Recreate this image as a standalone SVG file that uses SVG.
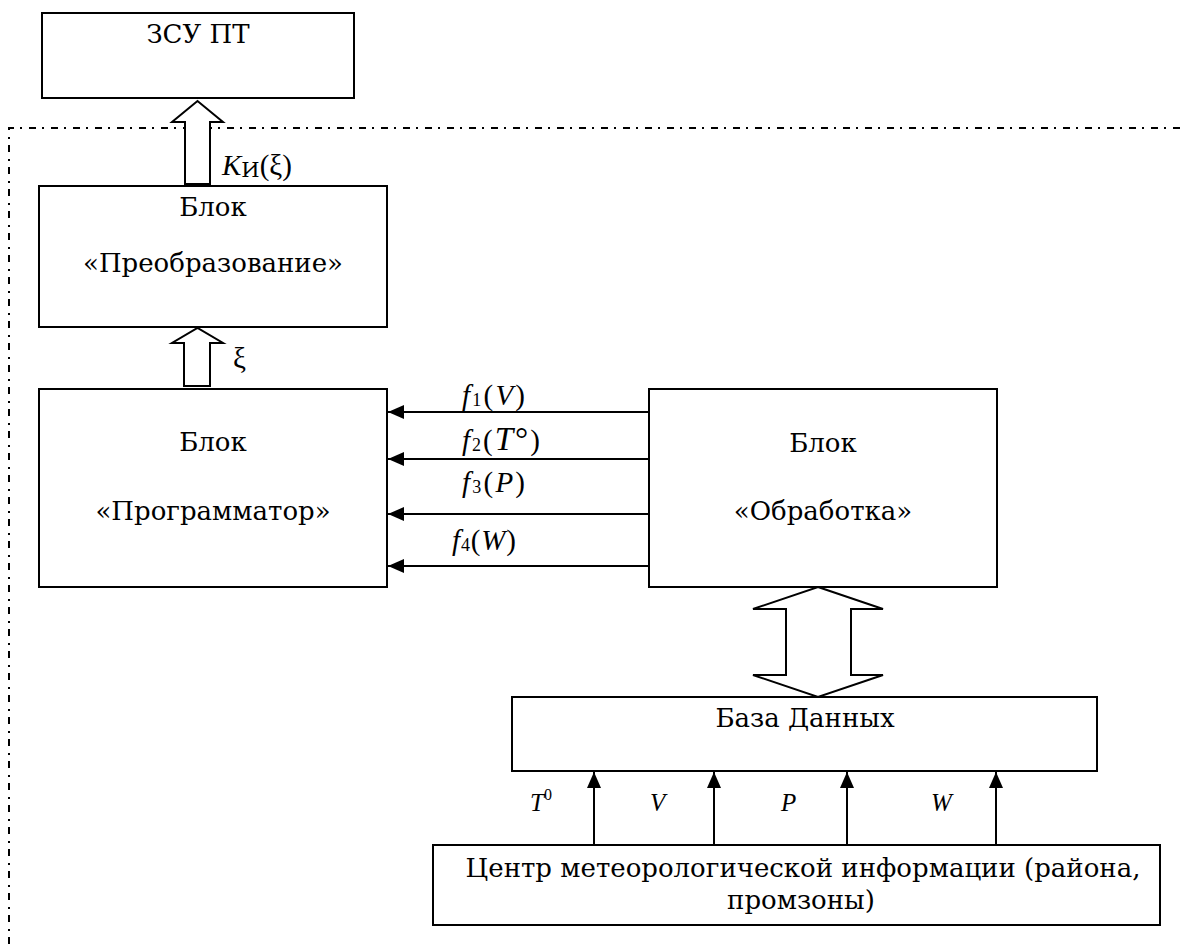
<svg xmlns="http://www.w3.org/2000/svg" width="1182" height="944" viewBox="0 0 1182 944">
<style>
text{font-family:'Liberation Serif','DejaVu Serif',serif;fill:#000;}
.t{font-size:26px;text-anchor:middle;font-family:'DejaVu Serif',serif;}
.l{font-size:29px;}
.i{font-style:italic;}
.s{font-size:18px;}
.b{font-size:25px;font-style:italic;}
.box{fill:#fff;stroke:#000;stroke-width:2;}
.ln{stroke:#000;stroke-width:2;fill:none;}
.hol{fill:#fff;stroke:#000;stroke-width:2;stroke-linejoin:miter;}
.dd{stroke:#000;stroke-width:2;fill:none;stroke-dasharray:7 6 2 7;}
</style>
<defs>
<marker id="ah" markerWidth="16" markerHeight="14" refX="16" refY="7" orient="auto" markerUnits="userSpaceOnUse">
<path d="M0,0 L16,7 L0,14 Z" fill="#000"/>
</marker>
</defs>
<rect width="1182" height="944" fill="#fff"/>

<g id="border">
<path class="dd" d="M9,944 L9,128 L1182,128"/>
</g>

<g id="zsu">
<rect class="box" x="42" y="13" width="312" height="85"/>
<text class="t" x="198" y="43">ЗСУ ПТ</text>
</g>

<g id="preobr">
<rect class="box" x="39" y="186" width="348" height="141"/>
<text class="t" x="213" y="216">Блок</text>
<text class="t" x="213" y="272">«Преобразование»</text>
</g>

<g id="program">
<rect class="box" x="39" y="389" width="348" height="198"/>
<text class="t" x="213" y="451">Блок</text>
<text class="t" x="213" y="520">«Программатор»</text>
</g>

<g id="obrab">
<rect class="box" x="649" y="389" width="348" height="198"/>
<text class="t" x="823" y="452">Блок</text>
<text class="t" x="823" y="520">«Обработка»</text>
</g>

<g id="baza">
<rect class="box" x="512" y="697" width="585" height="74"/>
<text class="t" x="805" y="727">База Данных</text>
</g>

<g id="centr">
<rect class="box" x="433" y="845" width="727" height="80"/>
<text class="t" x="803" y="877">Центр метеорологической информации (района,</text>
<text class="t" x="801" y="909">промзоны)</text>
</g>

<g id="connectors">
<path class="hol" d="M185,184 L185,122 L172,122 L197.5,101 L223,122 L210,122 L210,184 Z"/>
<path class="hol" d="M184,386 L184,343 L172,343 L197.5,328 L223,343 L210,343 L210,386 Z"/>
<path class="hol" d="M818,587 L883,609 L851,609 L851,675 L883,675 L818,697 L753,675 L786,675 L786,609 L753,609 Z"/>
<line class="ln" x1="649" y1="412" x2="388" y2="412" marker-end="url(#ah)"/>
<line class="ln" x1="649" y1="459" x2="388" y2="459" marker-end="url(#ah)"/>
<line class="ln" x1="649" y1="514" x2="388" y2="514" marker-end="url(#ah)"/>
<line class="ln" x1="649" y1="566" x2="388" y2="566" marker-end="url(#ah)"/>
<line class="ln" x1="594" y1="845" x2="594" y2="772" marker-end="url(#ah)"/>
<line class="ln" x1="714" y1="845" x2="714" y2="772" marker-end="url(#ah)"/>
<line class="ln" x1="847" y1="845" x2="847" y2="772" marker-end="url(#ah)"/>
<line class="ln" x1="996" y1="845" x2="996" y2="772" marker-end="url(#ah)"/>
</g>

<g id="labels">
<text class="l" x="222" y="175"><tspan class="i">K</tspan><tspan dy="2" style="font-family:'DejaVu Serif',serif;font-size:21px">И</tspan><tspan dy="-2">(ξ)</tspan></text>
<text class="l" x="233" y="368">ξ</text>
<text class="l" x="462" y="405" textLength="63" lengthAdjust="spacing"><tspan class="i">f</tspan><tspan class="s" dy="1">1</tspan><tspan dy="-1">(</tspan><tspan class="i">V</tspan>)</text>
<text class="l" x="462" y="450" textLength="78" lengthAdjust="spacing"><tspan class="i">f</tspan><tspan class="s" dy="1">2</tspan><tspan dy="-1">(</tspan><tspan class="i" style="font-size:33px">T</tspan><tspan style="font-size:33px">°</tspan>)</text>
<text class="l" x="462" y="492" textLength="63" lengthAdjust="spacing"><tspan class="i">f</tspan><tspan class="s" dy="1">3</tspan><tspan dy="-1">(</tspan><tspan class="i">P</tspan>)</text>
<text class="l" x="452" y="550" textLength="64" lengthAdjust="spacing"><tspan class="i">f</tspan><tspan class="s" dy="1">4</tspan><tspan dy="-1">(</tspan><tspan class="i">W</tspan>)</text>
<text x="530" y="811" style="font-size:25px"><tspan class="i">T</tspan><tspan style="font-size:16px" dy="-11">0</tspan></text>
<text class="b" x="650" y="811">V</text>
<text class="b" x="781" y="811">P</text>
<text class="b" x="931" y="811">W</text>
</g>
</svg>
